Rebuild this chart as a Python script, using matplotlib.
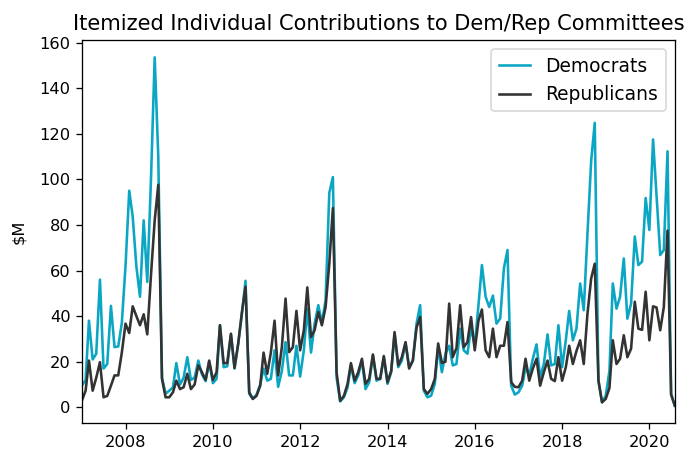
import matplotlib
matplotlib.use("Agg")
import matplotlib.pyplot as plt
import pandas as pd

# monthly totals, $M, Jan 2007 - Aug 2020
start_month = "2007-01-01"

democrats = [
    9.5, 12, 38, 21, 23.5, 56, 17, 19, 44.5, 26.4, 26.7, 37,
    62, 95, 83.7, 61.7, 48.5, 82, 55, 100, 153.5, 110, 13, 6,
    7.3, 8.8, 19.4, 10, 13, 22, 12, 13, 20.5, 14.5, 11.5, 20,
    10.6, 12.5, 36, 17.6, 18, 32, 17, 28, 41, 55.5, 5.9, 3.7,
    5.6, 10, 17, 11.7, 12.5, 25, 9, 16, 28.6, 14, 14, 27,
    13.5, 25, 43.3, 24, 36.7, 44.8, 37, 47, 94, 101, 13, 2.6,
    4.4, 8.8, 18.4, 10.6, 14, 20.5, 8, 11, 22.8, 11.7, 12.5, 22,
    10.3, 15.4, 32.3, 17.6, 20.5, 28.2, 17.6, 20.5, 36.7, 44.8, 7.3, 4.4,
    5.1, 10.3, 26.4, 15.4, 23.5, 27, 18.4, 19, 34.5, 25, 23.5, 35,
    27, 44.8, 62.4, 48.5, 44, 49, 36.7, 39, 61, 69, 9.5, 5.6,
    6.6, 9.5, 17.6, 14, 21.3, 27.6, 13.2, 19, 32, 18.4, 19, 36,
    17.6, 29.4, 42.3, 29.4, 34.5, 54.3, 42.6, 76, 108, 124.8, 11.7, 2.2,
    5.1, 16, 54.3, 43.3, 48.5, 65.3, 38.9, 45.5, 74.9, 62.4, 63.9, 91.8,
    77.8, 117.5, 93, 66.8, 69, 112.3, 5.9, 0.7,
]

republicans = [
    3, 7.3, 20.5, 7.3, 13, 19.8, 4.4, 5, 9.5, 14, 14, 24,
    36.7, 32.6, 44.3, 40, 36, 40.8, 32, 58, 82, 97.6, 12.5, 4.4,
    4.4, 6.6, 11.7, 8, 8.8, 14.7, 8, 10, 18.4, 15.4, 12, 20.5,
    12, 15.4, 36, 19.4, 19.4, 32.3, 17.3, 28, 41.8, 52.9, 6.6, 3.7,
    5, 9.5, 24, 14.7, 24, 38, 14, 26.4, 47.7, 24.2, 26.4, 42.3,
    25, 33.8, 52.6, 30.8, 33.8, 41.8, 36, 44, 63, 87.4, 15.4, 2.9,
    5, 10.3, 19.4, 11.7, 15.4, 21.3, 10.3, 12.5, 23.2, 12.5, 12.5, 22.5,
    11, 16, 33, 18.4, 22, 28.6, 17, 20.5, 35, 39.6, 8, 5.9,
    8, 12.5, 28, 19.5, 20, 45.5, 22, 26, 44.8, 26.4, 28.6, 39.6,
    25, 38, 42.9, 25, 22, 34.5, 22, 27, 27, 37.4, 11, 9,
    8.8, 11.7, 21.3, 11.7, 17, 21.3, 9.5, 15.4, 20.5, 12.5, 11.5, 22,
    11.7, 17.6, 27, 19, 24.7, 29.4, 19, 41, 56.5, 63, 11.7, 2.2,
    3.7, 8.5, 29.4, 19, 21.3, 31.6, 22, 25.7, 46.3, 34.5, 34, 50.7,
    29.4, 44.3, 43.8, 33.8, 44, 77.5, 5.6, 0.7,
]

dates = pd.date_range(start_month, periods=len(democrats), freq="MS")

fig, ax = plt.subplots(figsize=(6, 3.986), dpi=116.67)
fig.subplots_adjust(left=0.117, right=0.964, top=0.914, bottom=0.090)

ax.plot(dates, democrats, color="#0aa6c4", lw=1.6, label="Democrats")
ax.plot(dates, republicans, color="#333333", lw=1.6, label="Republicans")

ax.set_xlim(dates[0], dates[-1])
ax.set_ylabel(r"\$M", labelpad=8)
ax.set_title("Itemized Individual Contributions to Dem/Rep Committees", fontsize=13)
ax.legend(loc="upper right", fontsize=11.5, handlelength=1.7)

fig.savefig("out.png", dpi=116.67)
